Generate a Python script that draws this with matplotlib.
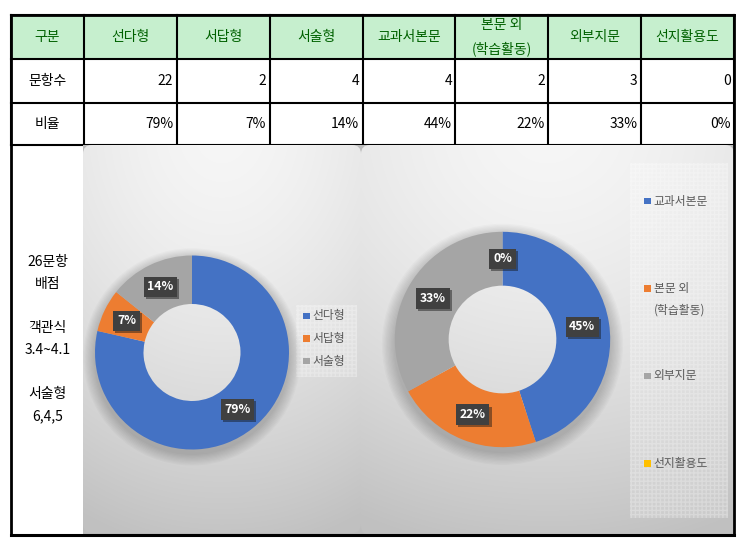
import matplotlib
matplotlib.use("Agg")
import matplotlib.pyplot as plt
import numpy as np
from matplotlib.patches import Rectangle, FancyBboxPatch, Wedge
from matplotlib import patheffects as pe

plt.rcParams['font.family'] = ['Noto Sans CJK KR', 'DejaVu Sans']

# table
header = ["구분", "선다형", "서답형", "서술형", "교과서본문", "본문 외\n(학습활동)", "외부지문", "선지활용도"]
row_names = ["문항수", "비율"]
counts = [22, 2, 4, 4, 2, 3, 0]
ratios = ["79%", "7%", "14%", "44%", "22%", "33%", "0%"]
note_lines = ["26문항", "배점", "", "객관식", "3.4~4.1", "", "서술형", "6,4,5"]

# left donut
type_labels = ["선다형", "서답형", "서술형"]
type_counts = [22, 2, 4]
# right donut (percentages as printed on the chart)
src_labels = ["교과서본문", "본문 외\n(학습활동)", "외부지문", "선지활용도"]
src_pcts = [45, 22, 33, 0]

BLUE, ORANGE, GRAY, YELLOW = "#4472C4", "#ED7D31", "#A5A5A5", "#FFC000"
GREEN_BG, GREEN_TXT = "#C6EFCE", "#006100"
LEG_TXT = "#595959"

W, H = 744, 543
fig = plt.figure(figsize=(W / 100, H / 100), dpi=100)
ax = fig.add_axes([0, 0, 1, 1])

x_left, x_right = 11, 734
col_x = np.linspace(84, 734, 8)
row_y = [15, 59, 103, 145]
y_bottom = 535
LW = 1.5

# header fill + grid
ax.add_patch(Rectangle((x_left, row_y[0]), x_right - x_left, row_y[1] - row_y[0],
                       fc=GREEN_BG, ec="none", zorder=1))
for x in [x_left] + list(col_x):
    ax.plot([x, x], [row_y[0], row_y[-1]], color="black", lw=LW, zorder=2)
for y in row_y:
    ax.plot([x_left, x_right], [y, y], color="black", lw=LW, zorder=2)

# header texts
centers = [(x_left + col_x[0]) / 2] + list((col_x[:-1] + col_x[1:]) / 2)
for cx, lab in zip(centers, header):
    lines = lab.split("\n")
    if len(lines) == 1:
        ax.text(cx, 37, lab, ha="center", va="center", fontsize=10, color=GREEN_TXT, zorder=5)
    else:
        for i, ln in enumerate(lines):
            ax.text(cx, 25 + i * 24, ln, ha="center", va="center", fontsize=10,
                    color=GREEN_TXT, zorder=5)

# data rows
row_mid = [81, 124]
for ym, name in zip(row_mid, row_names):
    ax.text(centers[0], ym, name, ha="center", va="center", fontsize=10, zorder=5)
for i, (c, r) in enumerate(zip(counts, ratios)):
    xr = col_x[i + 1] - 3.5
    ax.text(xr, row_mid[0], str(c), ha="right", va="center", fontsize=10, zorder=5)
    ax.text(xr, row_mid[1], r, ha="right", va="center", fontsize=10, zorder=5)

# note in the left cell
for i, ln in enumerate(note_lines):
    if ln:
        ax.text(centers[0], 262 + i * 22, ln, ha="center", va="center", fontsize=10, zorder=5)


def gradient_panel(x0, y0, x1, y1):
    h, w = int(y1 - y0), int(x1 - x0)
    yy, xx = np.mgrid[0:1:h * 1j, 0:1:w * 1j]
    d = np.sqrt(((xx - 0.5) * 0.9) ** 2 + (yy + 0.05) ** 2)
    v = 0.965 - 0.18 * np.clip(d, 0, 1.1) ** 1.6
    img = np.dstack([v, v, v])
    im = ax.imshow(img, extent=(x0, x1, y1, y0), origin="upper", aspect="auto",
                   zorder=3.5, interpolation="bilinear")
    box = FancyBboxPatch((x0, y0), x1 - x0, y1 - y0,
                         boxstyle="round,pad=0,rounding_size=9",
                         fc="none", ec="none", transform=ax.transData)
    ax.add_patch(box)
    im.set_clip_path(box)


# chart areas
ax.add_patch(Rectangle((83, 145), 651, 390, fc="#bcbcbc", ec="none", zorder=3))
gradient_panel(83, 145, 361, 533)
gradient_panel(361, 145, 734, 535)

# outer border
ax.plot([x_left, x_left], [row_y[0], y_bottom], color="black", lw=2, zorder=6)
ax.plot([x_right, x_right], [row_y[0], y_bottom], color="black", lw=2, zorder=6)
ax.plot([x_left, x_right], [y_bottom, y_bottom], color="black", lw=2.2, zorder=6)
ax.plot([x_left, x_right], [row_y[0], row_y[0]], color="black", lw=2, zorder=6)


def legend_block(bg, x_sq, y0, step, labels, colors):
    bx0, by0, bx1, by1 = bg
    ax.add_patch(Rectangle((bx0, by0), bx1 - bx0, by1 - by0, fc=(1, 1, 1, 0.15),
                           ec=(1, 1, 1, 0.25), hatch="++++", lw=0, zorder=4))
    for i, (lab, col) in enumerate(zip(labels, colors)):
        yc = y0 + i * step
        ax.add_patch(Rectangle((x_sq, yc - 3.3), 6.5, 6.5, fc=col, ec="none", zorder=5))
        for j, ln in enumerate(lab.split("\n")):
            ax.text(x_sq + 9.5, yc + j * 22, ln, ha="left", va="center",
                    fontsize=8.5, color=LEG_TXT, zorder=5)


legend_block((296, 305, 357, 377), 303, 316, 22.6, type_labels, [BLUE, ORANGE, GRAY])
legend_block((630, 163, 728, 518), 644, 201, 87.5, src_labels, [BLUE, ORANGE, GRAY, YELLOW])

ax.set_xlim(0, W)
ax.set_ylim(H, 0)
ax.axis("off")


def donut(cx, cy, r, values, colors):
    s = 1.25 * r
    axd = fig.add_axes([(cx - s) / W, (H - cy - s) / H, 2 * s / W, 2 * s / H])
    # soft shadow around the ring
    for i in range(1, 11):
        axd.add_patch(Wedge((0, -0.045), 1 + 0.012 * i, 0, 360, width=0.4,
                            fc="black", alpha=0.02, lw=0))
    wedges, _, autotexts = axd.pie(
        values, colors=colors, startangle=90, counterclock=False, radius=1,
        wedgeprops=dict(width=0.5, linewidth=0),
        autopct=lambda p: f"{p:.0f}%", pctdistance=0.75,
        textprops=dict(color="white", fontsize=8.8, fontweight="bold"))
    for t in autotexts:
        t.set_bbox(dict(boxstyle="square,pad=0.3", fc="#404040", ec="none"))
        t.get_bbox_patch().set_path_effects(
            [pe.SimplePatchShadow(offset=(1.5, -1.5), alpha=0.45), pe.Normal()])
    axd.set_xlim(-1.25, 1.25)
    axd.set_ylim(-1.25, 1.25)
    axd.axis("off")


donut(192, 352.5, 97, type_counts, [BLUE, ORANGE, GRAY])
donut(502.5, 339.5, 107.7, src_pcts, [BLUE, ORANGE, GRAY, YELLOW])

fig.savefig("out.png", dpi=100)
